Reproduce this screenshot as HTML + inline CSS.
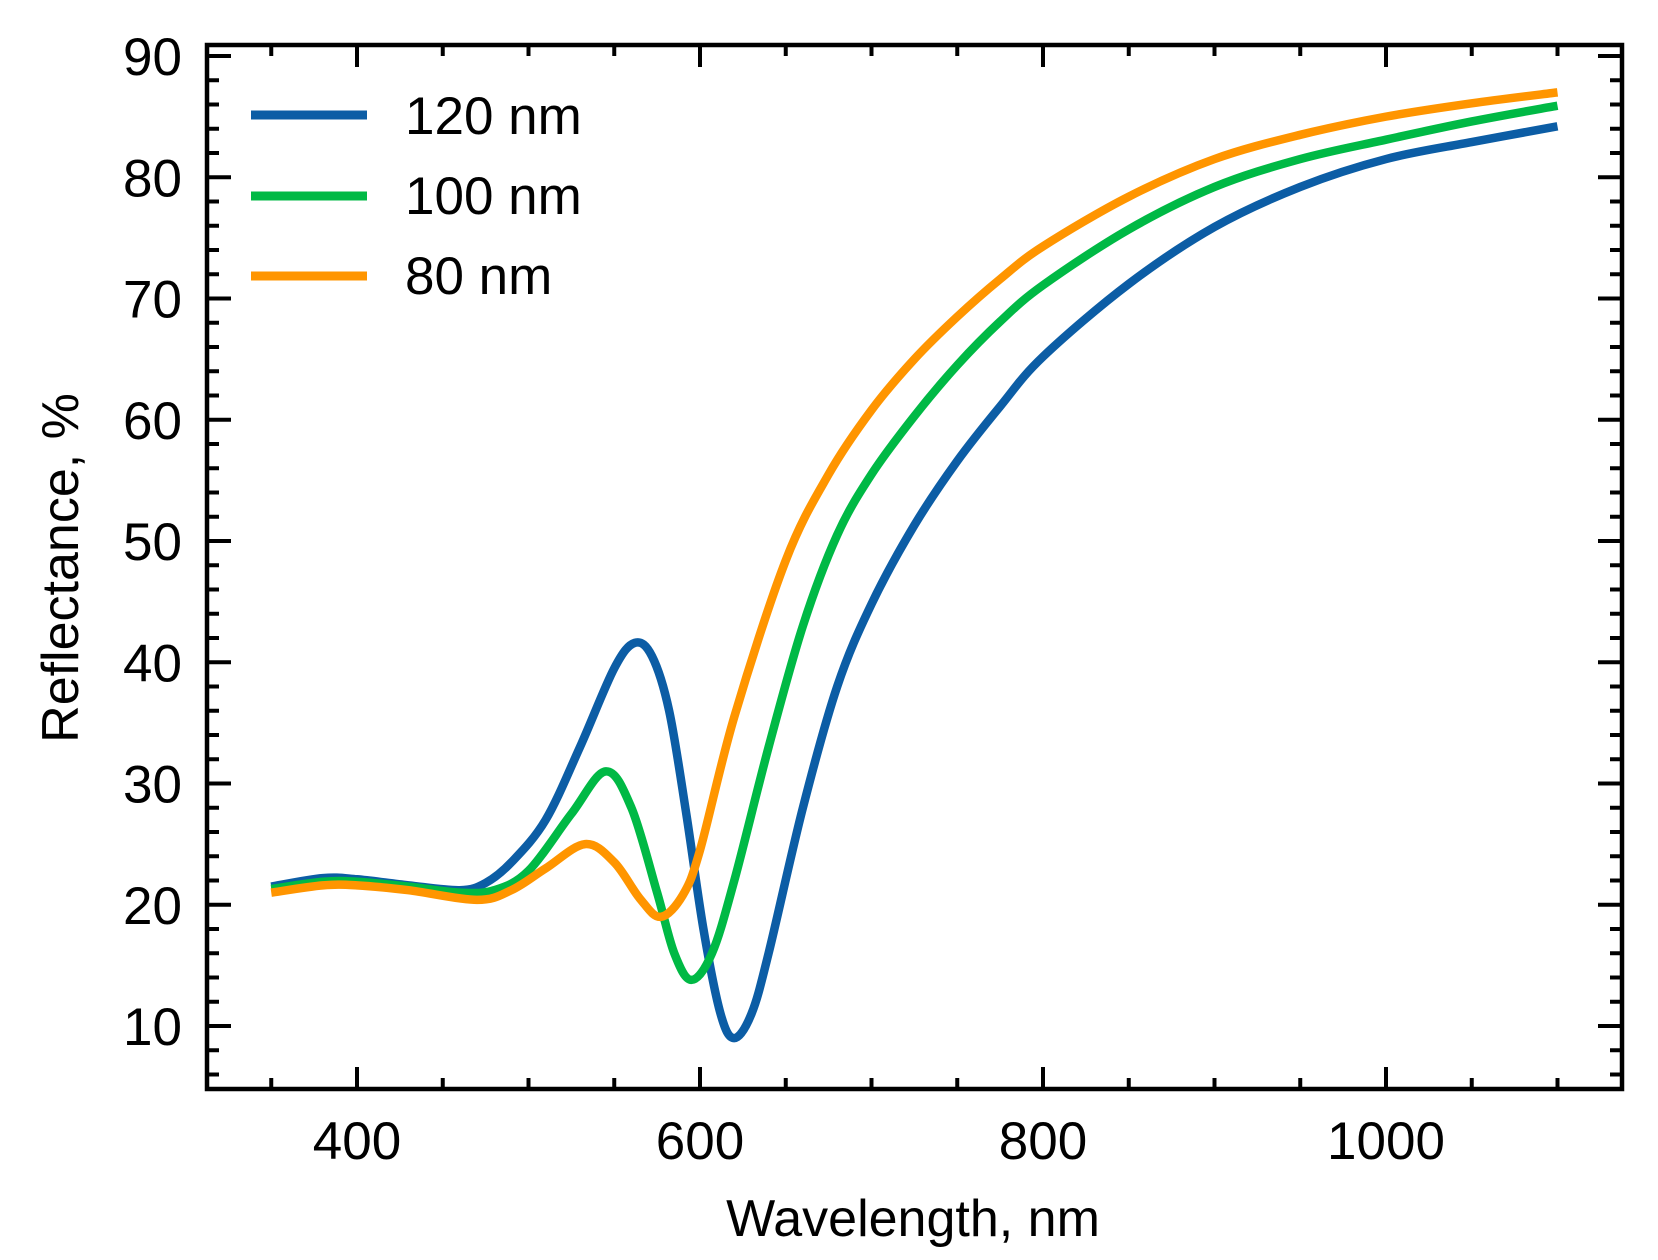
<!DOCTYPE html>
<html><head><meta charset="utf-8"><style>
html,body{margin:0;padding:0;background:#fff;}
svg{display:block;}
text{font-family:"Liberation Sans",sans-serif;fill:#000;}
</style></head><body>
<svg id="s" width="1658" height="1260" viewBox="0 0 1658 1260" xmlns="http://www.w3.org/2000/svg">
<g id="ticks" stroke="#000" stroke-width="4"></g>
<g id="curves" fill="none" stroke-width="8.5" stroke-linejoin="round" stroke-linecap="butt"></g>
<rect x="207" y="45" width="1415" height="1044" fill="none" stroke="#000" stroke-width="4.5"/>
<g id="labels" font-size="53"></g>
<text x="913" y="1236" font-size="52" text-anchor="middle">Wavelength, nm</text>
<text transform="translate(78,568) rotate(-90)" font-size="52" text-anchor="middle">Reflectance, %</text>
<g stroke-width="9">
<line x1="251" y1="115" x2="367" y2="115" stroke="#0C5DA5"/>
<line x1="251" y1="196" x2="367" y2="196" stroke="#00B945"/>
<line x1="251" y1="276" x2="367" y2="276" stroke="#FF9500"/>
</g>
<g font-size="53">
<text x="405" y="134">120 nm</text>
<text x="405" y="214">100 nm</text>
<text x="405" y="294">80 nm</text>
</g>
</svg>
<script>
var NS="http://www.w3.org/2000/svg";
function X(l){return 357+(l-400)*1.715;}
function Y(v){return 56+(90-v)*12.125;}
var t=document.getElementById('ticks'),lb=document.getElementById('labels');
function ln(x1,y1,x2,y2){var e=document.createElementNS(NS,'line');e.setAttribute('x1',x1);e.setAttribute('y1',y1);e.setAttribute('x2',x2);e.setAttribute('y2',y2);t.appendChild(e);}
function tx(x,y,s,a){var e=document.createElementNS(NS,'text');e.setAttribute('x',x);e.setAttribute('y',y);e.setAttribute('text-anchor',a);e.textContent=s;lb.appendChild(e);}
for(var l=350;l<=1100;l+=50){var x=X(l),maj=(l%200==0),L=maj?22:11;ln(x,1089,x,1089-L);ln(x,45,x,45+L);if(maj)tx(x,1159,''+l,'middle');}
for(var v=6;v<=90;v+=2){var y=Y(v),maj=(v%10==0),L=maj?24:12;ln(207,y,207+L,y);ln(1622,y,1622-L,y);if(maj)tx(182,y+19,''+v,'end');}
var data={
"#0C5DA5":[[350,21.5],[380,22.2],[400,22.1],[430,21.6],[460,21.2],[475,21.8],[490,23.5],[510,27],[530,33],[550,39.5],[562,41.6],[572,40.5],[582,36],[592,27.5],[602,18],[612,11],[620,9],[630,11],[640,16],[660,28],[680,38],[700,44.8],[725,51.3],[750,56.6],[775,61.1],[800,65.2],[850,71.2],[900,75.9],[950,79.2],[1000,81.5],[1050,82.9],[1100,84.2]],
"#00B945":[[350,21.3],[380,21.9],[400,21.9],[430,21.5],[460,21],[480,21.2],[500,22.8],[525,27.5],[545,31],[560,28],[575,21],[585,16],[595,13.8],[607,16],[620,22],[640,33],[660,43],[680,50.5],[700,55.5],[725,60.3],[750,64.5],[775,68.1],[800,71.1],[850,75.7],[900,79.2],[950,81.5],[1000,83.1],[1050,84.6],[1100,85.9]],
"#FF9500":[[350,21],[380,21.6],[400,21.6],[430,21.2],[470,20.4],[490,21.2],[510,23],[533,25],[550,23.5],[565,20.5],[577,19],[590,20.8],[600,24.5],[620,35.5],[650,48.4],[675,55.5],[700,60.8],[725,65],[750,68.5],[775,71.6],[800,74.3],[850,78.4],[900,81.5],[950,83.5],[1000,85],[1050,86.1],[1100,87]]};
var g=document.getElementById('curves');
for(var c in data){var p=data[c].map(function(d){return [X(d[0]),Y(d[1])];});
var s="M"+p[0][0]+","+p[0][1];
for(var i=0;i<p.length-1;i++){var p0=p[i-1]||p[i],p1=p[i],p2=p[i+1],p3=p[i+2]||p2;
s+=" C"+(p1[0]+(p2[0]-p0[0])/6)+","+(p1[1]+(p2[1]-p0[1])/6)+" "+(p2[0]-(p3[0]-p1[0])/6)+","+(p2[1]-(p3[1]-p1[1])/6)+" "+p2[0]+","+p2[1];}
var e=document.createElementNS(NS,'path');e.setAttribute('d',s);e.setAttribute('stroke',c);g.appendChild(e);}
</script>
</body></html>
